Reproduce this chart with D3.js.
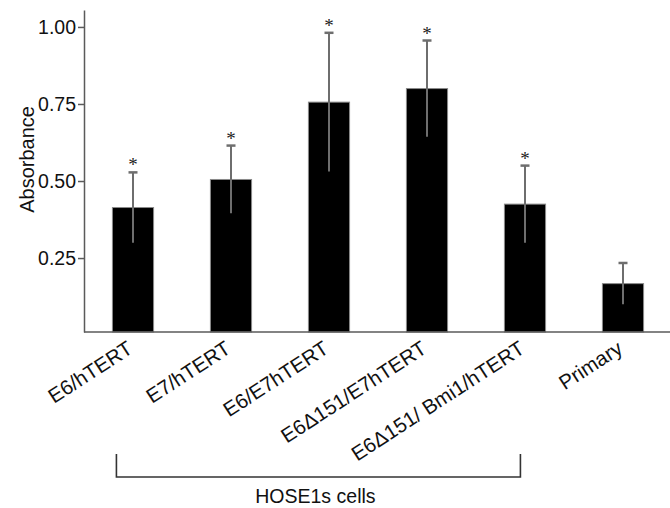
<!DOCTYPE html>
<html>
<head>
<meta charset="utf-8">
<script src="https://cdn.jsdelivr.net/npm/d3@7"></script>
<style>
  html, body { margin: 0; padding: 0; background: #fff; }
  svg { display: block; font-family: "Liberation Sans", Arial, Helvetica, sans-serif; }
</style>
</head>
<body>
<div id="chart"></div>
<script>
// data
const categories = ["E6/hTERT", "E7/hTERT", "E6/E7hTERT", "E6\u0394151/E7hTERT", "E6\u0394151/ Bmi1/hTERT", "Primary"];
const means = [0.414, 0.505, 0.756, 0.80, 0.425, 0.167];
const errors = [0.114, 0.11, 0.225, 0.156, 0.125, 0.067];
const significant = [true, true, true, true, true, false];
const yTicks = [0.25, 0.5, 0.75, 1.0];
const groupLabel = "HOSE1s cells";
const groupMembers = [0, 4]; // first and last bar under the bracket

const width = 670, height = 508;
const plotLeft = 84, plotRight = 672, baseline = 332, plotTop = 10;

const svg = d3.select("#chart").append("svg")
    .attr("width", width)
    .attr("height", height);

const x = d3.scaleBand()
    .domain(categories)
    .range([plotLeft, plotRight])
    .paddingInner(0.58)
    .paddingOuter(0.29);

const y = d3.scaleLinear()
    .domain([0.01, 1.055])
    .range([baseline, plotTop]);

// bars
svg.append("g")
    .selectAll("rect")
    .data(means)
    .join("rect")
    .attr("x", (d, i) => x(categories[i]))
    .attr("y", d => y(d))
    .attr("width", x.bandwidth())
    .attr("height", d => baseline - y(d))
    .attr("fill", "#000")
    .attr("stroke", "#8a8a8a")
    .attr("stroke-width", 1);

// error bars (grey line through the bar, cap only on top)
const err = svg.append("g")
    .attr("stroke", "#6e6e6e")
    .attr("stroke-width", 2);

means.forEach((m, i) => {
    const cx = x(categories[i]) + x.bandwidth() / 2;
    err.append("line")
        .attr("x1", cx).attr("x2", cx)
        .attr("y1", y(m - errors[i]))
        .attr("y2", y(m + errors[i]));
    err.append("line")
        .attr("x1", cx - 4.5).attr("x2", cx + 4.5)
        .attr("y1", y(m + errors[i]))
        .attr("y2", y(m + errors[i]))
        .attr("stroke-width", 2.5);
    if (significant[i]) {
        svg.append("text")
            .attr("x", cx)
            .attr("y", y(m + errors[i]) - 1)
            .attr("text-anchor", "middle")
            .attr("font-family", "'Liberation Serif', 'Times New Roman', serif")
            .attr("font-size", 19)
            .attr("fill", "#222")
            .text("*");
    }
});

// y axis
const yAxis = svg.append("g")
    .attr("transform", `translate(${plotLeft},0)`)
    .call(d3.axisLeft(y)
        .tickValues(yTicks)
        .tickFormat(d3.format(".2f"))
        .tickSize(6)
        .tickPadding(2)
        .tickSizeOuter(0));
yAxis.select(".domain").attr("stroke", "#5a5a5a").attr("stroke-width", 1.5);
yAxis.selectAll(".tick line").attr("stroke", "#5a5a5a").attr("stroke-width", 1.5);
yAxis.selectAll(".tick text")
    .attr("font-size", 19.5)
    .attr("font-family", "'Liberation Sans', Arial, sans-serif")
    .attr("fill", "#111");

// x axis line
svg.append("line")
    .attr("x1", plotLeft).attr("x2", plotRight)
    .attr("y1", baseline).attr("y2", baseline)
    .attr("stroke", "#5a5a5a")
    .attr("stroke-width", 1.5);

// rotated category labels
svg.append("g")
    .selectAll("text")
    .data(categories)
    .join("text")
    .attr("transform", d => `translate(${x(d) + x.bandwidth() / 2 + 1},${baseline + 20}) rotate(-33)`)
    .attr("text-anchor", "end")
    .attr("font-size", 20.5)
    .attr("fill", "#111")
    .text(d => d);

// y label
svg.append("text")
    .attr("transform", `translate(34,${y(0.57)}) rotate(-90)`)
    .attr("text-anchor", "middle")
    .attr("font-size", 20)
    .attr("fill", "#111")
    .text("Absorbance");

// bracket under the HOSE1s lines
const bx1 = x(categories[groupMembers[0]]) + 4;
const bx2 = x(categories[groupMembers[1]]) + 16;
const bTop = 454, bBot = 477;
svg.append("path")
    .attr("d", `M${bx1},${bTop}V${bBot}H${bx2}V${bTop}`)
    .attr("fill", "none")
    .attr("stroke", "#333")
    .attr("stroke-width", 1.6);

svg.append("text")
    .attr("x", (bx1 + bx2) / 2 - 3)
    .attr("y", 503)
    .attr("text-anchor", "middle")
    .attr("font-size", 19.5)
    .attr("fill", "#111")
    .text(groupLabel);
</script>
</body>
</html>
